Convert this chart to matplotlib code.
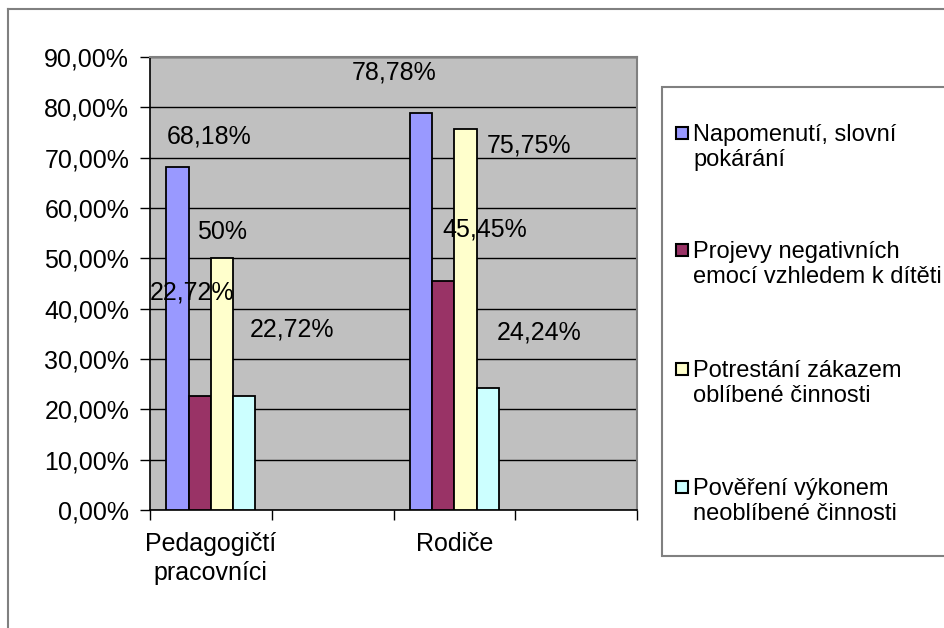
import numpy as np
import matplotlib
matplotlib.use("Agg")
import matplotlib.pyplot as plt
from matplotlib.patches import Rectangle
from matplotlib.lines import Line2D
from matplotlib.ticker import FixedLocator, FuncFormatter

# ---- data -------------------------------------------------------------
categories = ["Pedagogičtí\npracovníci", "", "Rodiče", ""]
series_names = [
    "Napomenutí, slovní\npokárání",
    "Projevy negativních\nemocí vzhledem k dítěti",
    "Potrestání zákazem\noblíbené činnosti",
    "Pověření výkonem\nneoblíbené činnosti",
]
napomenuti = [68.18, np.nan, 78.78, np.nan]
projevy = [22.72, np.nan, 45.45, np.nan]
potrestani = [50.0, np.nan, 75.75, np.nan]
povereni = [22.72, np.nan, 24.24, np.nan]
y_ticks = list(range(0, 100, 10))

# ---- style ------------------------------------------------------------
colors = ["#9999FF", "#993366", "#FFFFCC", "#CCFFFF"]
# label offsets (pixels) relative to the top centre of each bar
label_offsets = [
    [(32, 30), None, (-27, 41), None],
    [(-8, 103), None, (42, 52), None],
    [(0, 26), None, (63, -17), None],
    [(48, 66), None, (51, 55), None],
]

plt.rcParams["font.family"] = ["Liberation Sans", "DejaVu Sans"]
FS = 18

W, H = 944, 628
fig = plt.figure(figsize=(W / 100, H / 100), dpi=100)
fig.patch.set_facecolor("white")


def fx(px):
    return px / W


def fy(py):
    return 1 - py / H


ax = fig.add_axes([fx(150), fy(510), fx(637) - fx(150), fy(57) - fy(510)])
ax.set_facecolor("#C0C0C0")

x = np.arange(len(categories))
bw = 0.183
all_series = [napomenuti, projevy, potrestani, povereni]

for i, (vals, col) in enumerate(zip(all_series, colors)):
    xs = x + (i - 1.5) * bw
    ax.bar(xs, vals, width=bw, color=col, edgecolor="black",
           linewidth=1.3, zorder=3)
    for j, v in enumerate(vals):
        if np.isnan(v):
            continue
        txt = f"{v:.2f}".rstrip("0").rstrip(".").replace(".", ",") + "%"
        dx, dy = label_offsets[i][j]
        ax.annotate(txt, xy=(xs[j], v), xytext=(dx, dy),
                    textcoords="offset pixels", ha="center", va="center",
                    fontsize=FS, color="black", zorder=5)

ax.set_xlim(-0.5, len(categories) - 0.5)
ax.set_ylim(0, 90)

# y axis
ax.yaxis.set_major_locator(FixedLocator(y_ticks))
ax.yaxis.set_major_formatter(
    FuncFormatter(lambda v, p: f"{v:.2f}".replace(".", ",") + "%"))
ax.tick_params(axis="y", direction="out", length=7, width=1, pad=8,
               labelsize=FS, colors="black")
ax.grid(axis="y", color="black", linewidth=1, zorder=1)
ax.set_axisbelow(True)

# x axis: tick marks on slot borders, labels at slot centres
ax.xaxis.set_major_locator(FixedLocator(np.arange(len(categories) + 1) - 0.5))
ax.xaxis.set_major_formatter(FuncFormatter(lambda v, p: ""))
ax.xaxis.set_minor_locator(FixedLocator(x))
ax.set_xticklabels(categories, minor=True, linespacing=1.25)
ax.tick_params(axis="x", which="major", direction="out", length=7, width=1)
ax.tick_params(axis="x", which="minor", length=0, pad=16, labelsize=FS)

for s in ("top", "right"):
    ax.spines[s].set_color("#808080")
    ax.spines[s].set_linewidth(1.5)
for s in ("left", "bottom"):
    ax.spines[s].set_color("black")
    ax.spines[s].set_linewidth(1.2)

# chart frame (left and top edges visible)
fig.add_artist(Line2D([fx(8), fx(8)], [fy(9), 0], transform=fig.transFigure,
                      color="#808080", linewidth=1.5))
fig.add_artist(Line2D([fx(8), 1], [fy(9), fy(9)], transform=fig.transFigure,
                      color="#808080", linewidth=1.5))

# legend box
fig.add_artist(Rectangle((fx(662), fy(556)), 1, fy(87) - fy(556),
                         transform=fig.transFigure, facecolor="white",
                         edgecolor="#808080", linewidth=1.5, zorder=1))
first_line = [133, 250, 369, 487]
for name, col, py in zip(series_names, colors, first_line):
    fig.add_artist(Rectangle((fx(676), fy(py + 6)), fx(12), fy(py - 6) - fy(py + 6),
                             transform=fig.transFigure, facecolor=col,
                             edgecolor="black", linewidth=1.5, zorder=2))
    fig.text(fx(693), fy(py - 9), name, ha="left", va="top",
             fontsize=17, linespacing=1.15, zorder=3)

fig.savefig("out.png", dpi=100)
